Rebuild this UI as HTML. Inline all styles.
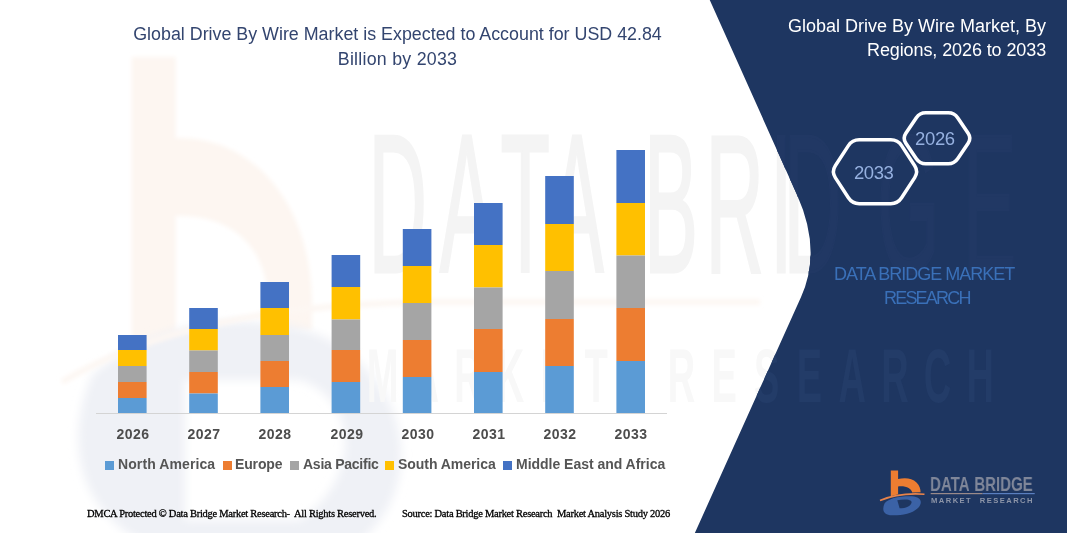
<!DOCTYPE html>
<html><head><meta charset="utf-8"><style>
*{margin:0;padding:0;box-sizing:border-box}
html,body{width:1067px;height:533px;overflow:hidden;background:#fff}
body{position:relative;font-family:"Liberation Sans",sans-serif}
.a{position:absolute;white-space:nowrap;line-height:1;will-change:transform}
svg{position:absolute;left:0;top:0}
.yr{width:80px;text-align:center;font-size:14px;font-weight:bold;color:#4d4d4d;letter-spacing:0.45px}
.lg{font-size:14px;font-weight:bold;color:#555555}
.ft{font-family:"Liberation Serif",serif;font-size:10.5px;color:#000;-webkit-text-stroke:0.3px #000}
</style></head><body>
<svg width="1067" height="533" viewBox="0 0 1067 533">
  <defs>
    <filter id="bl" x="-20%" y="-20%" width="140%" height="140%"><feGaussianBlur stdDeviation="5"/></filter>
    <filter id="bl2" x="-20%" y="-20%" width="140%" height="140%"><feGaussianBlur stdDeviation="2"/></filter>
  </defs>
  <!-- watermark b -->
  <g fill="#fdf6f1" filter="url(#bl2)">
    <rect x="131.7" y="57" width="44" height="330"/>
    <path d="M175,138 C250,135 310,200 312,300 L312,330 L268,330 L268,300 C266,245 230,214 175,216 Z"/>
  </g>
  <!-- watermark D swoosh -->
  <g filter="url(#bl)">
    <path d="M92,375 C60,450 80,540 200,560 L330,560 C420,520 430,400 330,340 C260,305 150,320 92,375 Z M185,380 L185,520 L300,520 C360,480 360,400 300,380 Z" fill="#eff1f6" fill-rule="evenodd"/>
  </g>
  <path d="M62,382 C150,330 260,306 420,302 L760,302" fill="none" stroke="#fdf7f3" stroke-width="6" filter="url(#bl2)"/>
  <!-- watermark text (white area) -->
  <g fill="#f4f4f4" font-family="Liberation Sans">
    <g stroke="#f4f4f4" stroke-width="3"><g transform="scale(0.41,1)"><text x="898.8 1072.4 1220.5 1340.7 1570.7 1720.7 1878.0 1911.0 2139.0 2347.6" y="272" font-size="197.5">DATABRIDGE</text></g></g>
    <g fill="#f8f8f8"><g transform="scale(0.5,1)"><text x="765.0 850.4 935.8 1021.2 1106.6 1192.0 1362.8 1448.2 1533.6 1619.0 1704.4 1789.8 1875.2 1960.6" y="402" font-size="76" font-weight="bold" text-anchor="middle">MARKETRESEARCH</text></g></g>
  </g>
  <!-- dark panel -->
  <path d="M709.75,0 L797.1,195 Q822,250.5 801.05,297 L694.85,533 L1067,533 L1067,0 Z" fill="#1e3661"/>
  <clipPath id="pc"><path d="M709.75,0 L797.1,195 Q822,250.5 801.05,297 L694.85,533 L1067,533 L1067,0 Z"/></clipPath>
  <g fill="#213864" font-family="Liberation Sans" clip-path="url(#pc)">
    <g stroke="#213864" stroke-width="3"><g transform="scale(0.41,1)"><text x="898.8 1072.4 1220.5 1340.7 1570.7 1720.7 1878.0 1911.0 2139.0 2347.6" y="272" font-size="197.5">DATABRIDGE</text></g></g>
    <g fill="#233c68"><g transform="scale(0.5,1)"><text x="765.0 850.4 935.8 1021.2 1106.6 1192.0 1362.8 1448.2 1533.6 1619.0 1704.4 1789.8 1875.2 1960.6" y="402" font-size="76" font-weight="bold" text-anchor="middle">MARKETRESEARCH</text></g></g>
  </g>
  <!-- baseline -->
  <rect x="96" y="413" width="571" height="1" fill="#d4d4d4"/>
  <g>
<rect x="118.0" y="335" width="28.6" height="15.0" fill="#4472c4"/>
<rect x="118.0" y="350" width="28.6" height="16.0" fill="#ffc000"/>
<rect x="118.0" y="366" width="28.6" height="16.0" fill="#a5a5a5"/>
<rect x="118.0" y="382" width="28.6" height="16.0" fill="#ed7d31"/>
<rect x="118.0" y="398" width="28.6" height="15.0" fill="#5b9bd5"/>
<rect x="189.2" y="308" width="28.6" height="21.0" fill="#4472c4"/>
<rect x="189.2" y="329" width="28.6" height="21.5" fill="#ffc000"/>
<rect x="189.2" y="350.5" width="28.6" height="21.5" fill="#a5a5a5"/>
<rect x="189.2" y="372" width="28.6" height="21.5" fill="#ed7d31"/>
<rect x="189.2" y="393.5" width="28.6" height="19.5" fill="#5b9bd5"/>
<rect x="260.4" y="282" width="28.6" height="26.0" fill="#4472c4"/>
<rect x="260.4" y="308" width="28.6" height="27.0" fill="#ffc000"/>
<rect x="260.4" y="335" width="28.6" height="26.0" fill="#a5a5a5"/>
<rect x="260.4" y="361" width="28.6" height="26.0" fill="#ed7d31"/>
<rect x="260.4" y="387" width="28.6" height="26.0" fill="#5b9bd5"/>
<rect x="331.6" y="255" width="28.6" height="32.0" fill="#4472c4"/>
<rect x="331.6" y="287" width="28.6" height="32.5" fill="#ffc000"/>
<rect x="331.6" y="319.5" width="28.6" height="30.5" fill="#a5a5a5"/>
<rect x="331.6" y="350" width="28.6" height="32.0" fill="#ed7d31"/>
<rect x="331.6" y="382" width="28.6" height="31.0" fill="#5b9bd5"/>
<rect x="402.8" y="229" width="28.6" height="37.0" fill="#4472c4"/>
<rect x="402.8" y="266" width="28.6" height="37.0" fill="#ffc000"/>
<rect x="402.8" y="303" width="28.6" height="37.0" fill="#a5a5a5"/>
<rect x="402.8" y="340" width="28.6" height="37.0" fill="#ed7d31"/>
<rect x="402.8" y="377" width="28.6" height="36.0" fill="#5b9bd5"/>
<rect x="474.0" y="203" width="28.6" height="42.0" fill="#4472c4"/>
<rect x="474.0" y="245" width="28.6" height="42.5" fill="#ffc000"/>
<rect x="474.0" y="287.5" width="28.6" height="41.5" fill="#a5a5a5"/>
<rect x="474.0" y="329" width="28.6" height="43.0" fill="#ed7d31"/>
<rect x="474.0" y="372" width="28.6" height="41.0" fill="#5b9bd5"/>
<rect x="545.2" y="176" width="28.6" height="48.0" fill="#4472c4"/>
<rect x="545.2" y="224" width="28.6" height="47.0" fill="#ffc000"/>
<rect x="545.2" y="271" width="28.6" height="48.0" fill="#a5a5a5"/>
<rect x="545.2" y="319" width="28.6" height="47.0" fill="#ed7d31"/>
<rect x="545.2" y="366" width="28.6" height="47.0" fill="#5b9bd5"/>
<rect x="616.4" y="150" width="28.6" height="53.0" fill="#4472c4"/>
<rect x="616.4" y="203" width="28.6" height="52.5" fill="#ffc000"/>
<rect x="616.4" y="255.5" width="28.6" height="52.5" fill="#a5a5a5"/>
<rect x="616.4" y="308" width="28.6" height="53.0" fill="#ed7d31"/>
<rect x="616.4" y="361" width="28.6" height="52.0" fill="#5b9bd5"/>
  </g>
  <path d="M835.30,177.58 Q831.50,171.70 835.30,165.82 L848.40,145.58 Q852.20,139.70 859.20,139.70 L890.80,139.70 Q897.80,139.70 901.60,145.58 L914.70,165.82 Q918.50,171.70 914.70,177.58 L901.60,197.82 Q897.80,203.70 890.80,203.70 L859.20,203.70 Q852.20,203.70 848.40,197.82 Z" fill="none" stroke="#fff" stroke-width="3.5"/>
  <path d="M905.86,143.17 Q902.50,138.20 905.86,133.23 L916.34,117.67 Q919.70,112.70 925.70,112.70 L948.30,112.70 Q954.30,112.70 957.66,117.67 L968.14,133.23 Q971.50,138.20 968.14,143.17 L957.66,158.73 Q954.30,163.70 948.30,163.70 L925.70,163.70 Q919.70,163.70 916.34,158.73 Z" fill="none" stroke="#fff" stroke-width="3.6"/>
  <!-- logo -->
  <g>
    <path d="M890.8,470.4 H898.1 V479 C904,477.6 912,477.6 916.5,482.5 C919.5,485.5 920.6,489 920.6,492.2 L912.2,492.6 C911.5,488.5 906,485.6 898.1,486.4 V494.3 L890.8,496.3 Z" fill="#ed7d31"/>
    <path d="M880,500.6 Q898,492.5 924.5,494.2" fill="none" stroke="#e8834a" stroke-width="1.6"/>
    <path d="M884.5,503.5 C888,498.5 898,496 912,496.2 C921,496.8 923,502 918.5,507.5 C913,513.5 902,515.5 892,515.3 C884,515 881.5,510.5 884.5,503.5 Z M897.3,500.2 L899.6,508.3 C906,508.2 910.8,506.2 911.6,502.4 C911.8,499.6 905,499 897.3,500.2 Z" fill="#3b62a6" fill-rule="evenodd"/>
    <rect x="930.7" y="493" width="52" height="1.2" fill="#9a8a8a"/>
    <rect x="982.7" y="493" width="52" height="1.2" fill="#5a7fc0"/>
  </g>
</svg>
<div class="a m" id="t1" style="left:0;width:795px;text-align:center;top:26px;font-size:17.85px;color:#33456f">Global Drive By Wire Market is Expected to Account for USD 42.84</div>
<div class="a m" id="t2" style="left:0;width:795px;text-align:center;top:50.8px;font-size:17.8px;letter-spacing:0.25px;color:#33456f">Billion by 2033</div>
<div class="a m" id="r1" style="right:20.5px;top:17px;font-size:18px;color:#fff">Global Drive By Wire Market, By</div>
<div class="a m" id="r2" style="right:20.5px;top:41px;font-size:18px;letter-spacing:-0.1px;color:#fff">Regions, 2026 to 2033</div>
<div class="a m" id="h1" style="left:854.3px;top:163.5px;font-size:18.5px;letter-spacing:-0.45px;color:#96b1e0">2033</div>
<div class="a m" id="h2" style="left:915.2px;top:130px;font-size:18.5px;letter-spacing:-0.35px;color:#96b1e0">2026</div>
<div class="a m" id="d1" style="left:834px;top:265px;font-size:18px;letter-spacing:-1.0px;color:#3a70b8">DATA BRIDGE MARKET</div>
<div class="a m" id="d2" style="left:883.5px;top:289px;font-size:18px;letter-spacing:-1.8px;color:#3a70b8">RESEARCH</div>
<div class="a m" id="lg1" style="left:930px;top:474.3px;font-size:20px;font-weight:bold;word-spacing:1.5px;color:#7f8699;transform:scaleX(0.752);transform-origin:0 0">DATA BRIDGE</div>
<div class="a m" id="lg2" style="left:930.5px;top:496.5px;font-size:7.6px;font-weight:bold;letter-spacing:1.45px;word-spacing:4px;color:#8d95a8">MARKET RESEARCH</div>
<div class="a m yr" style="left:93.0px;top:427px">2026</div>
<div class="a m yr" style="left:164.2px;top:427px">2027</div>
<div class="a m yr" style="left:235.4px;top:427px">2028</div>
<div class="a m yr" style="left:306.6px;top:427px">2029</div>
<div class="a m yr" style="left:377.8px;top:427px">2030</div>
<div class="a m yr" style="left:449.0px;top:427px">2031</div>
<div class="a m yr" style="left:520.2px;top:427px">2032</div>
<div class="a m yr" style="left:591.4px;top:427px">2033</div>
<div class="a" style="left:105.1px;top:461px;width:8.8px;height:9px;background:#5b9bd5"></div>
<div class="a m lg" style="left:118.2px;top:457.2px;letter-spacing:0.1px">North America</div>
<div class="a" style="left:222.8px;top:461px;width:8.8px;height:9px;background:#ed7d31"></div>
<div class="a m lg" style="left:234.8px;top:457.2px;letter-spacing:-0.15px">Europe</div>
<div class="a" style="left:290.3px;top:461px;width:8.8px;height:9px;background:#a5a5a5"></div>
<div class="a m lg" style="left:303.1px;top:457.2px;letter-spacing:-0.25px">Asia Pacific</div>
<div class="a" style="left:385px;top:461px;width:8.8px;height:9px;background:#ffc000"></div>
<div class="a m lg" style="left:397.8px;top:457.2px;letter-spacing:-0.05px">South America</div>
<div class="a" style="left:503.4px;top:461px;width:8.8px;height:9px;background:#4472c4"></div>
<div class="a m lg" style="left:516.2px;top:457.2px;letter-spacing:-0.02px">Middle East and Africa</div>
<div class="a m ft" id="f1" style="left:87.3px;top:509px;letter-spacing:-0.27px">DMCA Protected © Data Bridge Market Research-&nbsp; All Rights Reserved.</div>
<div class="a m ft" id="f2" style="left:402px;top:509px;letter-spacing:-0.27px">Source: Data Bridge Market Research&nbsp; Market Analysis Study 2026</div>
</body></html>
